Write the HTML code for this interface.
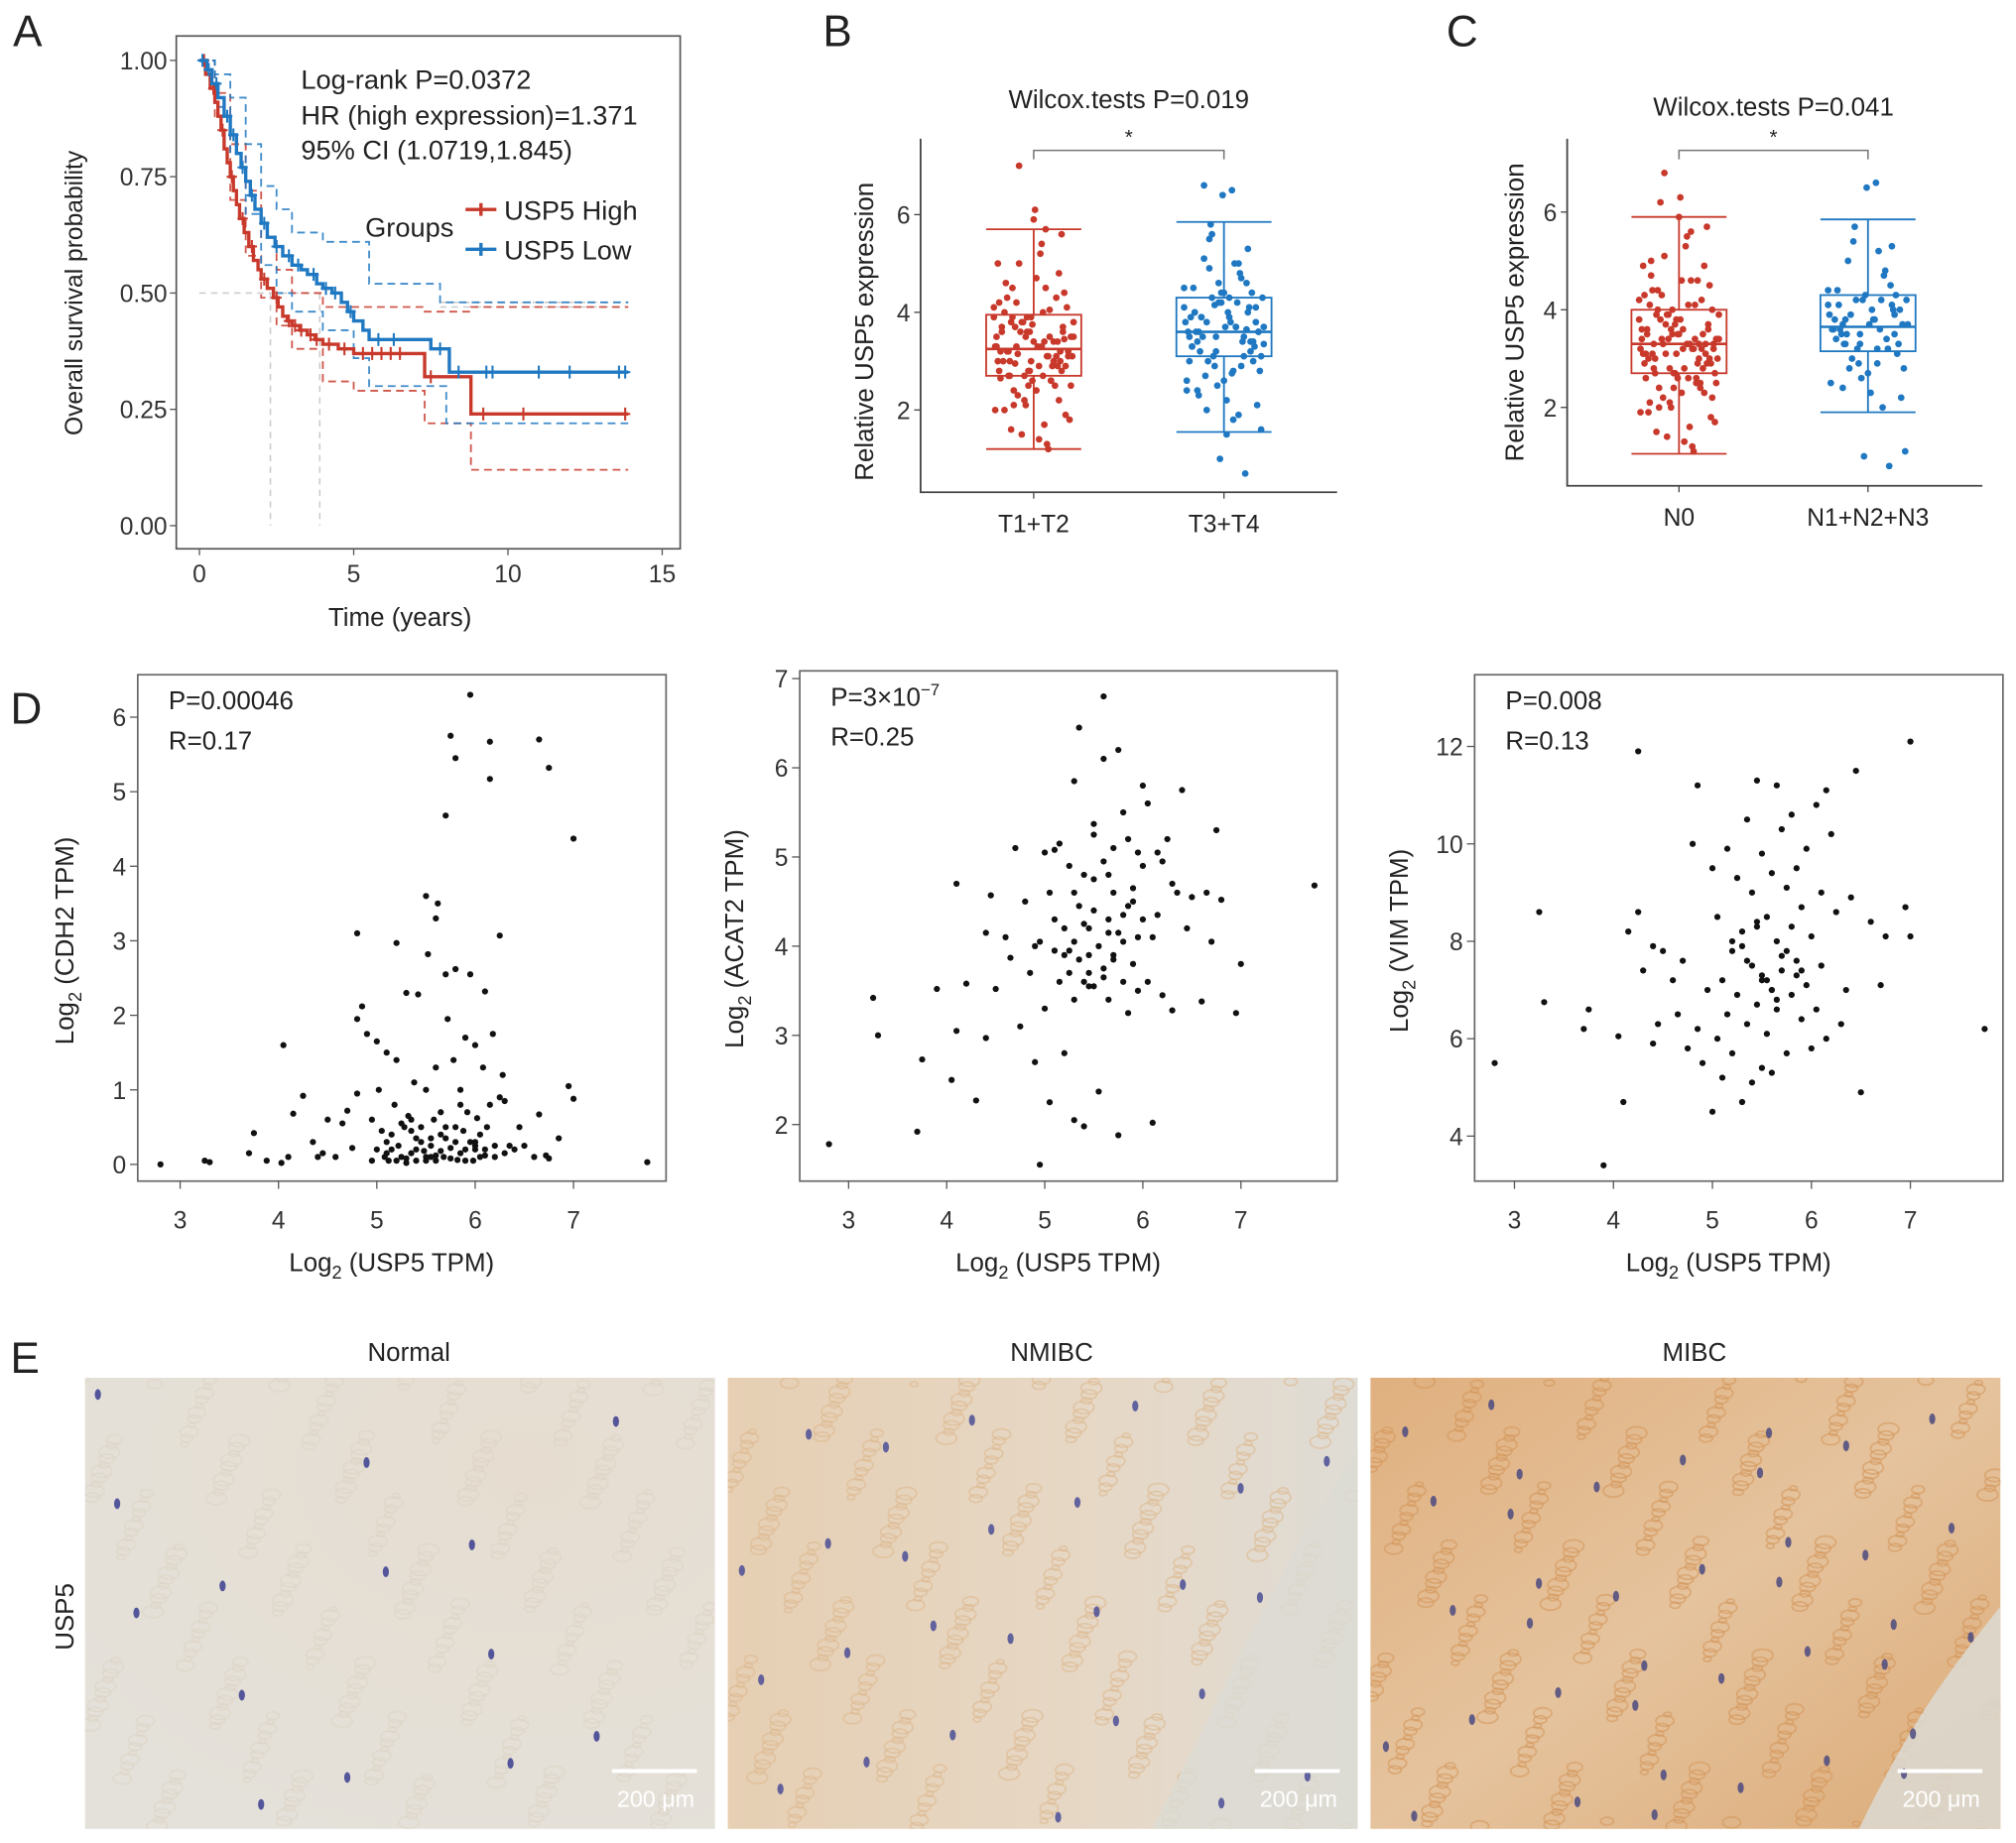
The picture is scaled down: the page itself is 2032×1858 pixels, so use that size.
<!DOCTYPE html>
<html><head><meta charset="utf-8"><style>
html,body{margin:0;padding:0;background:#fff}
svg{display:block;font-family:"Liberation Sans",Arial,sans-serif}
</style></head><body>
<svg id="fig" xmlns="http://www.w3.org/2000/svg" width="2032" height="1858" viewBox="0 0 1568 1434">
<defs>
<radialGradient id="gN" cx="0.7" cy="0.2" r="0.9"><stop offset="0" stop-color="#e6ddd0"/><stop offset="1" stop-color="#e4e1da"/></radialGradient>
<linearGradient id="gM" x1="0" y1="0" x2="1" y2="1"><stop offset="0" stop-color="#e0b07f"/><stop offset="0.5" stop-color="#e5c39d"/><stop offset="1" stop-color="#dcab78"/></linearGradient>
<linearGradient id="gB" x1="0" y1="0" x2="1" y2="0"><stop offset="0" stop-color="#e6cfb3"/><stop offset="0.6" stop-color="#e6d8c6"/><stop offset="1" stop-color="#dfdcd5"/></linearGradient>
</defs>
<g id="root"></g>
</svg>
<script>
// ---------- Panel A data ----------
const kmHighT = [0,0.2,0.35,0.5,0.6,0.7,0.8,0.9,1.0,1.1,1.2,1.3,1.45,1.6,1.75,1.9,2.0,2.2,2.4,2.55,2.7,2.85,3.0,3.25,3.5,3.75,4.0,4.5,5.0,7.3,8.8,13.9];
const kmHighS = [1,0.97,0.94,0.91,0.88,0.85,0.81,0.78,0.75,0.72,0.69,0.66,0.63,0.60,0.57,0.55,0.53,0.51,0.49,0.47,0.45,0.44,0.43,0.42,0.41,0.40,0.39,0.38,0.37,0.32,0.24,0.24];
const kmLowT = [0,0.25,0.4,0.6,0.8,1.0,1.2,1.35,1.5,1.65,1.8,2.0,2.2,2.45,2.7,3.0,3.3,3.5,3.8,4.0,4.3,4.6,4.8,5.0,5.3,5.5,7.5,8.1,13.9];
const kmLowS = [1,0.98,0.95,0.92,0.88,0.84,0.80,0.77,0.74,0.71,0.68,0.65,0.62,0.60,0.58,0.56,0.55,0.54,0.52,0.51,0.50,0.48,0.46,0.44,0.42,0.40,0.38,0.33,0.33];
const ciHighT = [0,0.5,1,1.5,2,2.5,3,4,5,7.3,8.8,13.9];
const ciHighUp = [1,0.93,0.82,0.72,0.62,0.55,0.50,0.47,0.47,0.46,0.47,0.47];
const ciHighLo = [1,0.88,0.70,0.58,0.49,0.43,0.38,0.31,0.29,0.22,0.12,0.12];
const ciLowUpT = [0,0.5,1,1.5,2,2.5,3,4,5.5,7.8,13.9];
const ciLowUp = [1,0.97,0.92,0.82,0.73,0.68,0.63,0.61,0.52,0.48,0.48];
const ciLowLoT = [0,0.5,1,1.5,2,2.5,3,4,5,5.5,8,13.9];
const ciLowLo = [1,0.90,0.80,0.67,0.56,0.50,0.46,0.42,0.36,0.30,0.22,0.22];
const censorHigh = [0.15,0.45,0.75,1.05,1.4,1.7,2.1,2.5,2.9,3.1,3.3,3.6,3.8,4.2,4.7,5.3,5.6,5.9,6.2,6.5,7.5,9.2,10.5,13.8];
const censorLow = [0.1,0.3,0.55,0.9,1.1,1.4,1.7,2.1,2.5,2.9,3.2,3.7,4.1,4.4,4.9,5.8,6.3,7.8,8.4,9.3,9.5,11,12,13.6,13.8];
const xTicksA = [0,5,10,15];
const yTicksA = [0,0.25,0.5,0.75,1.0];
const yTickLabA = ["0.00","0.25","0.50","0.75","1.00"];

// ---------- Panel B/C data ----------
const catsB = ["T1+T2","T3+T4"];
const statsB = [[1.2,2.7,3.25,3.95,5.7],[1.55,3.1,3.6,4.3,5.85]];
const valsB1 = [3.2,2.9,3.5,4.1,2.7,3.8,3.0,2.5,3.3,4.5,2.1,3.6,3.9,2.8,3.1,4.2,1.9,3.4,3.7,2.6,5.0,3.2,2.4,4.0,3.0,1.5,3.5,2.9,4.3,3.1,2.2,3.8,3.3,2.7,4.8,3.6,2.0,3.4,3.9,5.6,2.8,3.0,1.3,3.7,4.4,2.6,3.2,3.5,2.3,4.1,6.1,3.0,2.9,3.6,1.8,3.3,4.6,2.5,3.8,3.1,5.2,2.7,3.4,2.1,3.9,4.0,1.6,3.2,2.8,3.5,5.7,2.4,3.7,3.0,4.2,1.2,3.3,2.9,5.9,3.6,2.6,7.0,3.1,4.7,2.0,3.4,3.8,2.5,1.4,3.2,4.3,2.7,3.5,5.4,3.0,2.2,3.9,3.3,1.7,4.5,2.8,3.6,5.0,3.1,2.95,3.45,3.75,2.65,4.05,3.15];
const valsB2 = [3.6,4.0,3.2,4.5,2.8,3.9,3.4,4.2,2.4,3.7,5.1,3.0,4.4,3.5,1.9,3.8,4.1,2.6,3.3,4.7,5.5,3.6,2.2,4.0,3.1,4.3,1.6,3.9,3.4,4.6,2.9,3.7,6.5,3.2,4.1,2.5,3.8,5.0,3.5,4.4,1.0,3.6,4.2,2.7,3.3,6.4,3.9,4.8,3.0,2.1,3.7,4.5,3.4,5.8,2.8,4.0,3.6,0.7,3.1,4.3,3.8,2.3,5.3,3.5,4.1,1.8,3.9,3.2,4.6,2.6,3.7,6.6,3.4,4.2,3.0,5.0,2.0,3.8,4.4,3.3,2.9,4.9,3.6,1.5,4.0,3.5,5.6,3.1,4.3,2.4,3.65,4.15,3.35,2.75];
const catsC = ["N0","N1+N2+N3"];
const statsC = [[1.05,2.7,3.3,4.0,5.9],[1.9,3.15,3.65,4.3,5.85]];
const valsC1 = [3.3,2.8,3.6,4.2,2.6,3.9,3.1,2.4,3.4,4.6,2.0,3.7,3.8,2.9,3.2,4.3,1.8,3.5,3.6,2.5,5.1,3.3,2.3,4.1,3.0,1.4,3.4,2.8,4.4,3.2,2.1,3.9,3.3,2.7,4.9,3.5,1.9,3.3,4.0,5.7,2.7,3.1,1.2,3.8,4.5,2.6,3.1,3.4,2.2,4.0,6.3,3.0,2.9,3.7,1.7,3.2,4.7,2.5,3.9,3.0,5.3,2.8,3.5,2.0,3.8,4.1,1.5,3.3,2.7,3.6,5.6,2.4,3.6,3.1,4.3,1.1,3.4,2.9,5.9,3.5,2.6,6.8,3.2,4.6,2.1,3.3,3.9,2.5,1.3,3.1,4.2,2.8,3.4,5.5,3.0,2.3,4.0,3.2,1.6,4.4,2.9,3.7,4.9,3.2,6.2,3.0,3.5,2.6,4.1,3.3,2.2,3.8,1.9,4.6,3.1,2.7,3.6,5.0,2.4,3.4];
const valsC2 = [3.7,4.1,3.3,4.4,2.9,3.8,3.5,4.2,2.5,3.6,5.0,3.1,4.3,3.6,2.0,3.9,4.0,2.7,3.4,4.8,5.4,3.7,2.3,4.1,3.2,4.2,1.1,3.8,3.5,4.5,2.9,3.7,6.6,3.3,4.0,2.6,3.9,5.2,3.5,4.3,1.0,3.6,4.2,2.8,3.3,6.5,3.8,4.7,3.0,2.2,3.7,4.4,3.4,5.7,2.8,4.0,3.6,0.8,3.2,4.2,3.8,2.4,5.3,3.5,4.1,3.2,3.3,3.9];

// ---------- Panel D data ----------
const xD1 = [2.8,3.25,3.3,3.7,3.75,3.88,4.03,4.05,4.1,4.15,4.25,4.35,4.4,4.45,4.5,4.58,4.65,4.7,4.75,4.8,4.8,4.85,4.9,4.95,4.95,5.0,5.0,5.02,5.05,5.08,5.1,5.1,5.12,5.15,5.18,5.2,5.2,5.22,5.25,5.28,5.3,5.3,5.32,5.35,5.38,5.4,5.4,5.42,5.45,5.48,5.5,5.5,5.52,5.55,5.58,5.6,5.6,5.62,5.65,5.68,5.7,5.7,5.72,5.75,5.78,5.8,5.8,5.82,5.85,5.88,5.9,5.9,5.92,5.95,5.98,6.0,6.0,6.02,6.05,6.08,6.1,6.1,6.12,6.15,6.18,6.2,6.2,6.25,6.28,6.3,6.35,6.4,6.45,6.5,6.6,6.65,6.72,6.75,6.85,6.95,7.0,7.75,5.5,5.6,5.7,5.75,5.8,5.95,6.15,6.15,6.65,6.75,7.0,5.2,4.8,5.35,5.55,5.65,5.85,6.0,6.3,6.25,5.1,5.3,5.45,5.6,5.75,5.9,6.05,5.25,5.4,5.55,5.7,5.85,6.0,5.15,5.35,5.5,5.65,5.8,5.95,6.1];
const yD1 = [0,0.05,0.03,0.15,0.42,0.05,0.02,1.6,0.1,0.68,0.92,0.3,0.1,0.15,0.6,0.1,0.55,0.72,0.22,3.1,1.95,2.12,1.75,0.05,0.6,1.65,0.2,1.0,0.45,0.1,1.5,0.3,0.05,0.2,0.8,0.05,1.4,0.25,0.1,0.5,2.3,0.02,0.65,0.15,1.1,0.05,0.35,2.28,0.5,0.18,0.1,1.0,2.82,0.25,0.6,0.05,1.3,3.5,0.4,0.1,0.5,2.55,1.95,0.08,1.4,0.3,2.62,0.06,1.0,0.45,0.2,1.7,0.7,2.55,0.05,1.6,0.3,0.62,0.1,1.3,0.12,2.32,0.5,0.8,1.75,0.1,0.25,0.9,1.2,0.15,0.25,0.2,0.5,0.25,0.1,0.67,0.12,0.08,0.35,1.05,0.88,0.03,3.6,3.3,4.68,5.75,5.45,6.3,5.67,5.17,5.7,5.32,4.37,2.97,0.95,0.45,0.35,0.7,0.8,0.2,0.85,3.07,0.15,0.08,0.3,0.12,0.22,0.05,0.4,0.55,0.2,0.1,0.35,0.15,0.25,0.4,0.6,0.05,0.18,0.5,0.3,0.2];
const xD2 = [2.8,3.25,3.3,3.7,3.75,3.9,4.05,4.1,4.1,4.2,4.3,4.4,4.4,4.45,4.5,4.6,4.65,4.7,4.75,4.8,4.85,4.9,4.95,4.95,5.0,5.0,5.05,5.05,5.1,5.1,5.15,5.15,5.2,5.2,5.25,5.25,5.3,5.3,5.3,5.35,5.35,5.4,5.4,5.4,5.45,5.45,5.5,5.5,5.5,5.55,5.55,5.6,5.6,5.6,5.65,5.65,5.7,5.7,5.7,5.75,5.75,5.8,5.8,5.8,5.85,5.85,5.9,5.9,5.95,5.95,6.0,6.0,6.05,6.05,6.1,6.1,6.15,6.15,6.2,6.25,6.3,6.3,6.35,6.4,6.45,6.5,6.6,6.65,6.7,6.75,6.8,6.95,7.0,7.75,5.35,5.6,5.75,6.0,5.3,5.5,5.1,4.9,6.2,5.65,5.85,5.45,5.25,5.95,5.2,5.4,5.6,5.8,5.5,5.7,5.3,5.9,5.45,5.65];
const yD2 = [1.78,3.42,3.0,1.92,2.73,3.52,2.5,3.05,4.7,3.58,2.27,4.15,2.97,4.57,3.52,4.1,3.87,5.1,3.1,4.5,3.7,2.7,4.05,1.55,3.3,5.05,4.6,2.25,3.95,4.3,3.6,5.15,2.8,4.2,3.7,4.9,4.6,3.4,2.05,4.45,3.85,4.8,3.6,1.98,4.2,3.9,5.25,3.55,4.4,2.37,4.0,4.95,3.75,6.1,4.3,3.4,5.1,3.9,4.6,1.88,4.15,5.5,3.6,4.05,5.2,3.25,4.5,3.8,5.05,3.5,4.3,4.9,3.6,5.6,4.1,2.02,4.35,5.05,3.45,5.2,4.7,3.28,4.6,5.75,4.2,4.55,3.38,4.6,4.05,5.3,4.52,3.25,3.8,4.68,6.45,6.8,6.2,5.8,5.85,5.37,5.08,4.0,4.95,4.8,4.45,3.7,3.95,4.1,3.9,4.25,3.65,4.35,4.75,3.85,4.05,4.65,3.55,4.15];
const xD3 = [2.8,3.25,3.3,3.7,3.75,3.9,4.05,4.1,4.15,4.25,4.3,4.4,4.4,4.45,4.5,4.6,4.65,4.7,4.75,4.8,4.85,4.9,4.95,5.0,5.0,5.05,5.05,5.1,5.1,5.15,5.15,5.2,5.2,5.25,5.25,5.3,5.3,5.35,5.35,5.4,5.4,5.4,5.45,5.45,5.5,5.5,5.5,5.55,5.55,5.6,5.6,5.6,5.65,5.65,5.7,5.7,5.75,5.75,5.8,5.8,5.85,5.85,5.9,5.9,5.95,5.95,6.0,6.0,6.05,6.05,6.1,6.1,6.15,6.2,6.25,6.3,6.35,6.4,6.5,6.6,6.7,6.75,6.95,7.0,7.75,4.25,6.45,7.0,5.45,5.65,5.8,4.85,6.15,5.3,5.5,5.7,5.9,5.2,5.35,5.55,5.75,5.6,5.45,5.85,5.65];
const yD3 = [5.5,8.6,6.75,6.2,6.6,3.4,6.05,4.7,8.2,11.9,7.4,7.9,5.9,6.3,7.8,7.2,6.5,7.6,5.8,10.0,6.2,5.5,7.0,4.5,9.5,6.0,8.5,7.2,5.2,9.9,6.5,7.8,5.7,9.3,6.9,8.2,4.7,10.5,6.3,9.0,7.5,5.1,8.3,6.7,9.8,7.2,5.4,8.5,6.1,9.4,7.0,5.3,8.0,6.6,10.3,7.4,9.1,5.7,8.3,6.9,9.5,7.6,8.7,6.4,9.9,7.1,8.1,5.8,10.8,6.6,9.0,7.5,6.0,10.2,8.6,6.3,7.0,8.9,4.9,8.4,7.1,8.1,8.7,8.1,6.2,8.6,11.5,12.1,11.3,11.2,10.6,11.2,11.1,7.9,7.3,7.7,7.4,8.0,7.6,7.2,7.8,7.0,8.4,7.3,6.8];
const xTicksD = [3,4,5,6,7];
const yTicksD1 = [0,1,2,3,4,5,6];
const yTicksD2 = [2,3,4,5,6,7];
const yTicksD3 = [4,6,8,10,12];

const NS = "http://www.w3.org/2000/svg";
const root = document.getElementById("root");
function mk(tag, attrs, parent){ const e=document.createElementNS(NS,tag); for(const k in attrs) e.setAttribute(k,attrs[k]); (parent||root).appendChild(e); return e; }
function txt(s, x, y, size, anchor, parent, extra){ const t=mk("text",Object.assign({x:x,y:y,"font-size":size,"text-anchor":anchor||"start",fill:"#222"},extra||{}),parent); t.textContent=s; return t; }
function grp(parent){ return mk("g",{},parent); }

const RED="#c8392b", BLUE="#1f78c1";

// ---------- Panel letters ----------
[["A",10,36],["B",640,36],["C",1125,36],["D",8,563],["E",8,1068]].forEach(p=>{
  const t=txt(p[0],p[1],p[2],34,"start");
  
  
});

// ---------- Panel A ----------
const gA = grp();


const xA = t => 155 + t*24;
const yA = s => 409 - s*362;
const boxA = mk("rect",{x:137,y:28,width:392,height:399,fill:"none",stroke:"#555","stroke-width":1.3},gA);


yTicksA.forEach((v,i)=>{
  const l=mk("line",{x1:132,x2:137,y1:yA(v),y2:yA(v),stroke:"#555"},gA);
  
  
  const t=txt(yTickLabA[i],130,yA(v)+7,19,"end",gA,{fill:"#333"});
  
  
});
xTicksA.forEach(v=>{
  const l=mk("line",{x1:xA(v),x2:xA(v),y1:427,y2:432,stroke:"#555"},gA);
  
  
  const t=txt(String(v),xA(v),453,19,"middle",gA,{fill:"#333"});
  
  
});
const ylA=txt("Overall survival probability",0,0,19,"middle",gA,{transform:"translate(64,228) rotate(-90)"});


const xlA=txt("Time (years)",311,487,20,"middle",gA);


const med1=mk("path",{d:`M${xA(0)} ${yA(0.5)} H${xA(3.9)} M${xA(2.3)} ${yA(0.5)} V${yA(0)} M${xA(3.9)} ${yA(0.5)} V${yA(0)} M${xA(7.8)} ${yA(0.48)} H${xA(13.9)} M${xA(7.8)} ${yA(0.47)} H${xA(13.9)}`,fill:"none",stroke:"#ccc","stroke-dasharray":"5 4","stroke-width":1.2},gA);


function stepPath(T,S){ let d=`M${xA(T[0])} ${yA(S[0])}`; for(let i=1;i<T.length;i++){ d+=` H${xA(T[i])} V${yA(S[i])}`; } return d; }
[[ciHighT,ciHighUp,RED,'ci-high-upper'],[ciHighT,ciHighLo,RED,'ci-high-lower'],[ciLowUpT,ciLowUp,BLUE,'ci-low-upper'],[ciLowLoT,ciLowLo,BLUE,'ci-low-lower']].forEach(c=>{
  const p=mk("path",{d:stepPath(c[0],c[1]),fill:"none",stroke:c[2],"stroke-dasharray":"6 4","stroke-width":1.4,opacity:0.85},gA);
  
  
});
function survAt(T,S,t){ let s=S[0]; for(let i=0;i<T.length;i++){ if(T[i]<=t) s=S[i]; } return s; }
[[kmHighT,kmHighS,RED,'km-curve-high',censorHigh],[kmLowT,kmLowS,BLUE,'km-curve-low',censorLow]].forEach(c=>{
  const p=mk("path",{d:stepPath(c[0],c[1]),fill:"none",stroke:c[2],"stroke-width":2.6},gA);
  
  
  c[4].forEach(t=>{
    const y=yA(survAt(c[0],c[1],t)), x=xA(t);
    const m=mk("path",{d:`M${x} ${y-5} V${y+5} M${x-4} ${y} H${x+4}`,stroke:c[2],"stroke-width":1.6},gA);
    
    
  });
});
[["Log-rank P=0.0372",69],["HR (high expression)=1.371",97],["95% CI (1.0719,1.845)",124]].forEach(a=>{
  const t=txt(a[0],234,a[1],21,"start",gA);
  
  
});
const lgT=txt("Groups",284,184,21,"start",gA);


[["USP5 High",RED,163],["USP5 Low",BLUE,194]].forEach(e=>{
  const g=grp(gA);
  
  
  mk("path",{d:`M362 ${e[2]} H386 M374 ${e[2]-5} V${e[2]+5}`,stroke:e[1],"stroke-width":2.6},g);
  txt(e[0],392,e[2]+8,21,"start",g);
});

// ---------- Box plots ----------
function boxPanel(name, axX, axTop, axBot, axRight, yF, cats, stats, vals, cx, ticks, title, titleY, ylabX, ylabY){
  const g=grp();
  
  
  const ax=mk("path",{d:`M${axX} ${axTop} V${axBot} H${axRight}`,fill:"none",stroke:"#444","stroke-width":1.4},g);
  
  
  ticks.forEach(v=>{
    const l=mk("line",{x1:axX-5,x2:axX,y1:yF(v),y2:yF(v),stroke:"#444"},g);
    
    
    const t=txt(String(v),axX-8,yF(v)+7,19,"end",g,{fill:"#333"});
    
    
  });
  const tt=txt(title,(cx[0]+cx[1])/2,titleY,20,"middle",g);
  
  
  const br=mk("path",{d:`M${cx[0]} 124 V117 H${cx[1]} V124`,fill:"none",stroke:"#777","stroke-width":1.2},g);
  
  
  const st=txt("*",(cx[0]+cx[1])/2,112,16,"middle",g);
  
  
  const yl=txt("Relative USP5 expression",0,0,20,"middle",g,{transform:`translate(${ylabX},${ylabY}) rotate(-90)`});
  
  
  cats.forEach((c,i)=>{
    const col = i===0?RED:BLUE;
    const x=cx[i], s=stats[i], hw=37;
    const tk=mk("line",{x1:x,x2:x,y1:axBot,y2:axBot+5,stroke:"#444"},g);
    
    
    const lb=txt(c,x,axBot+31,19,"middle",g);
    
    
    const bx=grp(g);
    
    
    mk("path",{d:`M${x} ${yF(s[0])} V${yF(s[1])} M${x} ${yF(s[3])} V${yF(s[4])} M${x-hw} ${yF(s[0])} H${x+hw} M${x-hw} ${yF(s[4])} H${x+hw}`,stroke:col,"stroke-width":1.4,fill:"none"},bx);
    mk("rect",{x:x-hw,y:yF(s[3]),width:hw*2,height:yF(s[1])-yF(s[3]),fill:"none",stroke:col,"stroke-width":1.4},bx);
    mk("line",{x1:x-hw,x2:x+hw,y1:yF(s[2]),y2:yF(s[2]),stroke:col,"stroke-width":2},bx);
    vals[i].forEach((v,j)=>{
      const jit=(((j*37+11)%61)/60-0.5)*62;
      const p=mk("circle",{cx:x+jit,cy:yF(v),r:2.6,fill:col},g);
      
      
    });
  });
}
boxPanel('boxplot-t-stage',716,108,383,1040,v=>395-v*38,catsB,statsB,[valsB1,valsB2],[804,952],[2,4,6],"Wilcox.tests P=0.019",84,679,258);
boxPanel('boxplot-n-stage',1219,108,378,1542,v=>393-v*38,catsC,statsC,[valsC1,valsC2],[1306,1453],[2,4,6],"Wilcox.tests P=0.041",90,1185,243);

// ---------- Scatter panels ----------
function scatter(name, bx, by, bw, bh, xF, yF, xs, ys, yTicks, ylabGene, ylabX, pTxt, rTxt, sup){
  const g=grp();
  
  
  const fr=mk("rect",{x:bx,y:by,width:bw,height:bh,fill:"none",stroke:"#666","stroke-width":1.3},g);
  
  
  xTicksD.forEach(v=>{
    const l=mk("line",{x1:xF(v),x2:xF(v),y1:by+bh,y2:by+bh+6,stroke:"#555"},g);
    
    
    const t=txt(String(v),xF(v),by+bh+37,19,"middle",g,{fill:"#333"});
    
    
  });
  yTicks.forEach(v=>{
    const l=mk("line",{x1:bx-6,x2:bx,y1:yF(v),y2:yF(v),stroke:"#555"},g);
    
    
    const t=txt(String(v),bx-9,yF(v)+7,19,"end",g,{fill:"#333"});
    
    
  });
  const n=Math.min(xs.length,ys.length);
  for(let i=0;i<n;i++){
    const c=mk("circle",{cx:xF(xs[i]),cy:yF(ys[i]),r:2.4,fill:"#111"},g);
    
    
  }
  const xl=mk("text",{x:bx+bw/2-8,y:by+bh+70,"font-size":20,"text-anchor":"middle",fill:"#222"},g);
  xl.innerHTML='Log<tspan font-size="14" dy="6">2</tspan><tspan dy="-6"> (USP5 TPM)</tspan>';
  
  
  const yl=mk("text",{x:0,y:0,"font-size":20,"text-anchor":"middle",fill:"#222",transform:`translate(${ylabX},${by+bh/2+10}) rotate(-90)`},g);
  yl.innerHTML='Log<tspan font-size="14" dy="6">2</tspan><tspan dy="-6"> ('+ylabGene+' TPM)</tspan>';
  
  
  const pt=mk("text",{x:bx+24,y:by+27,"font-size":20,fill:"#222"},g);
  pt.innerHTML = sup ? pTxt+'<tspan font-size="13" dy="-8">−7</tspan>' : pTxt;
  
  
  const rt=txt(rTxt,bx+24,by+58,20,"start",g);
  
  
}
scatter('scatter-cdh2',107,525,411,394,v=>140+(v-3)*76.5,v=>906-v*58,xD1,yD1,yTicksD1,"CDH2",57,"P=0.00046","R=0.17",false);
scatter('scatter-acat2',622,522,418,397,v=>660+(v-3)*76.3,v=>875-(v-2)*69.4,xD2,yD2,yTicksD2,"ACAT2",578,"P=3×10","R=0.25",true);
scatter('scatter-vim',1147,525,411,394,v=>1178+(v-3)*77,v=>884-(v-4)*37.9,xD3,yD3,yTicksD3,"VIM",1095,"P=0.008","R=0.13",false);

// ---------- Panel E (IHC images) ----------
const panels=[["Normal",66,"url(#gN)","#3a3d8f"],["NMIBC",566,"url(#gB)","#4a4e96"],["MIBC",1066,"url(#gM)","#4b4a80"]];
const ihcTitles = ["Normal","NMIBC","MIBC"];
const blobCol = ["#ddd3c4","#dcb88e","#d4955a"];
panels.forEach((p,k)=>{
  const g=grp();
  
  
  mk("rect",{x:p[1],y:1072,width:490,height:351,fill:p[2]},g);
  mk("clipPath",{id:"clip"+k},g);
  const cp=g.lastChild; mk("rect",{x:p[1],y:1072,width:490,height:351},cp);
  const tex=mk("g",{"clip-path":`url(#clip${k})`},g);
  for(let i=0;i<420;i++){
    const x=p[1]+((i*73+k*19)%487), y=1073+((i*131+k*41)%349);
    const r=3+((i*7)%6);
    mk("ellipse",{cx:x,cy:y,rx:r,ry:r*0.6,fill:"none",stroke:blobCol[k],"stroke-width":1.4,opacity:0.55},tex);
  }
  if(k>0){ mk("path",{d:k===1?`M${p[1]+330} 1423 C ${p[1]+380} 1330 ${p[1]+420} 1230 ${p[1]+490} 1130 V1423 Z`:`M${p[1]+380} 1423 C ${p[1]+420} 1340 ${p[1]+450} 1300 ${p[1]+490} 1250 V1423 Z`,fill:"#dcdad3",opacity:0.85},tex); }
  const nn = 14 + k*12;
  for(let i=0;i<nn;i++){
    const x=p[1]+10+((i*97+k*53)%470), y=1085+((i*149+k*31)%330);
    mk("ellipse",{cx:x,cy:y,rx:2.4,ry:4.2,fill:p[3],opacity:0.85},tex);
  }
  mk("line",{x1:p[1]+410,x2:p[1]+476,y1:1378,y2:1378,stroke:"#fff","stroke-width":3},g);
  const sb=txt("200 μm",p[1]+444,1406,18,"middle",g,{fill:"#fff"});
  
  
  const t=txt(ihcTitles[k],p[1]+252,1059,20,"middle");
  
  
});
const usp=txt("USP5",0,0,20,"middle",root,{transform:"translate(57,1258) rotate(-90)"});


</script>
</body></html>
